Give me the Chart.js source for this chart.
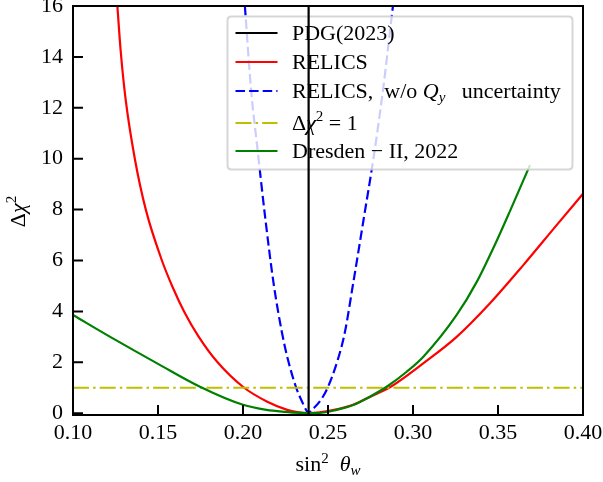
<!DOCTYPE html>
<html>
<head>
<meta charset="utf-8">
<title>Δχ² vs sin²θw</title>
<script src="https://cdn.jsdelivr.net/npm/chart.js@4.4.0/dist/chart.umd.min.js"></script>
<style>
  html, body { margin: 0; padding: 0; background: #ffffff; }
</style>
</head>
<body>
<canvas id="chi2Chart" width="603" height="482"></canvas>
<script>
// axis ticks
const xTickValues = [0.10, 0.15, 0.20, 0.25, 0.30, 0.35, 0.40];
const yTickValues = [0, 2, 4, 6, 8, 10, 12, 14, 16];

// PDG(2023) reference value of sin^2(theta_w)
const pdgValue = 0.2386;

// RELICS
const relicsX = [0.1261, 0.1280, 0.1310, 0.1365, 0.1429, 0.1522, 0.1585, 0.1654, 0.1739, 0.1848,
                 0.2003, 0.2143, 0.2260, 0.2320, 0.2386, 0.2450, 0.2550, 0.2648, 0.2746, 0.2864,
                 0.3060, 0.3257, 0.3453, 0.3649, 0.3845, 0.4000];
const relicsY = [16.0, 14.27, 12.31, 9.95, 7.98, 6.02, 4.97, 3.99, 3.01, 2.02,
                 1.02, 0.45, 0.13, 0.04, 0.00, 0.03, 0.15, 0.33, 0.64, 1.02,
                 1.96, 3.00, 4.32, 5.82, 7.39, 8.62];

// RELICS without the Q_y uncertainty
const relicsNoQyX = [0.2011, 0.2048, 0.2086, 0.2130, 0.2180, 0.2230, 0.2265, 0.2312, 0.2343, 0.2378,
                     0.2388, 0.2396, 0.2458, 0.2499, 0.2557, 0.2598, 0.2648, 0.2712, 0.2767, 0.2823,
                     0.2882];
const relicsNoQyY = [16.0, 12.67, 10.34, 7.72, 5.10, 3.14, 2.09, 1.02, 0.52, 0.06,
                     0.00, 0.06, 0.52, 1.02, 2.09, 3.14, 5.10, 7.72, 10.0, 12.67,
                     16.0];

// Dresden-II, 2022
const dresdenX = [0.1000, 0.1250, 0.1500, 0.1750, 0.2000, 0.2138, 0.2250, 0.2334, 0.2430, 0.2550,
                  0.2648, 0.2746, 0.2845, 0.2963, 0.3061, 0.3257, 0.3375, 0.3492, 0.3571, 0.3688];
const dresdenY = [3.86, 2.88, 1.94, 1.03, 0.33, 0.13, 0.05, 0.01, 0.00, 0.13,
                  0.32, 0.65, 1.04, 1.63, 2.22, 3.86, 5.16, 6.77, 7.95, 9.75];

// 1 sigma level
const oneSigmaX = [0.10, 0.40];
const oneSigmaY = [1, 1];

const xMin = 0.10, xMax = 0.40;
const yMin = -0.07, yMax = 16;

const FONT = '"Liberation Serif", "Times New Roman", serif';
const BASE_SIZE = 22;
const SMALL_SIZE = 15;

const RED = '#ff0000', BLUE = '#0000ff', GREEN = '#008000', OLIVE = '#bfbf00', BLACK = '#000000';
const DASHED = [9.5, 4.1];
const DASH_DOT = [16, 4.1, 2.5, 4.1];
const LINE_W = 2.2;

function toPoints(xs, ys) {
    return xs.map((x, i) => ({ x: x, y: ys[i] }));
}

// text made of runs of different style (italic, super/subscript)
function runFont(r) {
    return (r.italic ? 'italic ' : '') + (r.size || BASE_SIZE) + 'px ' + FONT;
}
function runsWidth(ctx, runs) {
    let w = 0;
    runs.forEach(r => { ctx.font = runFont(r); w += ctx.measureText(r.text).width; });
    return w;
}
function drawRuns(ctx, runs, x, y) {
    ctx.textAlign = 'left';
    ctx.textBaseline = 'alphabetic';
    runs.forEach(r => {
        ctx.font = runFont(r);
        ctx.fillText(r.text, x, y + (r.dy || 0));
        x += ctx.measureText(r.text).width;
    });
}

const xTitle = [
    { text: 'sin' }, { text: '2', size: SMALL_SIZE, dy: -8 }, { text: '  ' },
    { text: 'θ', italic: true }, { text: 'w', italic: true, size: SMALL_SIZE, dy: 4 }
];
const yTitle = [
    { text: 'Δ' }, { text: 'χ', italic: true }, { text: '2', size: SMALL_SIZE, dy: -9 }
];

const legendEntries = [
    { runs: [{ text: 'PDG(2023)' }], color: BLACK, dash: [] },
    { runs: [{ text: 'RELICS' }], color: RED, dash: [] },
    { runs: [{ text: 'RELICS,  w/o ' }, { text: 'Q', italic: true }, { text: 'y', italic: true, size: SMALL_SIZE, dy: 4 },
             { text: '   uncertainty' }], color: BLUE, dash: DASHED },
    { runs: [{ text: 'Δ' }, { text: 'χ', italic: true }, { text: '2', size: SMALL_SIZE, dy: -9 }, { text: ' = 1' }],
      color: OLIVE, dash: DASH_DOT },
    { runs: [{ text: 'Dresden − II, 2022' }], color: GREEN, dash: [] }
];
const legendRowY = [33, 62, 91, 123, 151];

function drawLegend(chart) {
    const ctx = chart.ctx;
    const area = chart.chartArea;
    const right = area.right - 10.5, top = area.top + 10.5;
    const left = 227.5, bottom = 169.5, r = 4;

    ctx.save();
    ctx.beginPath();
    ctx.moveTo(left + r, top);
    ctx.lineTo(right - r, top);
    ctx.quadraticCurveTo(right, top, right, top + r);
    ctx.lineTo(right, bottom - r);
    ctx.quadraticCurveTo(right, bottom, right - r, bottom);
    ctx.lineTo(left + r, bottom);
    ctx.quadraticCurveTo(left, bottom, left, bottom - r);
    ctx.lineTo(left, top + r);
    ctx.quadraticCurveTo(left, top, left + r, top);
    ctx.closePath();
    ctx.fillStyle = 'rgba(255, 255, 255, 0.8)';
    ctx.fill();
    ctx.strokeStyle = 'rgba(204, 204, 204, 0.8)';
    ctx.lineWidth = 2;
    ctx.stroke();

    legendEntries.forEach((entry, i) => {
        const y = legendRowY[i];
        ctx.strokeStyle = entry.color;
        ctx.lineWidth = LINE_W;
        ctx.setLineDash(entry.dash);
        ctx.beginPath();
        ctx.moveTo(235.5, y);
        ctx.lineTo(277.5, y);
        ctx.stroke();
        ctx.setLineDash([]);
        ctx.fillStyle = BLACK;
        drawRuns(ctx, entry.runs, 292, y + 7);
    });
    ctx.restore();
}

// frame, inward ticks, axis titles and legend
const axesDecor = {
    id: 'axesDecor',
    beforeDatasetDraw(chart, args) {
        // legend sits below the PDG line
        if (args.index === 0) drawLegend(chart);
    },
    afterDraw(chart) {
        const ctx = chart.ctx;
        const a = chart.chartArea;
        const xs = chart.scales.x, ys = chart.scales.y;
        ctx.save();
        ctx.strokeStyle = BLACK;
        ctx.lineWidth = 2;
        ctx.beginPath();
        xs.ticks.forEach(t => {
            const px = xs.getPixelForValue(t.value);
            ctx.moveTo(px, a.bottom);
            ctx.lineTo(px, a.bottom - 10);
        });
        ys.ticks.forEach(t => {
            const py = ys.getPixelForValue(t.value);
            ctx.moveTo(a.left, py);
            ctx.lineTo(a.left + 10, py);
        });
        ctx.stroke();
        ctx.strokeRect(a.left, a.top, a.right - a.left, a.bottom - a.top);

        ctx.fillStyle = BLACK;
        const cx = (a.left + a.right) / 2;
        drawRuns(ctx, xTitle, cx - runsWidth(ctx, xTitle) / 2, 471);

        ctx.translate(25, (a.top + a.bottom) / 2 + 1);
        ctx.rotate(-Math.PI / 2);
        drawRuns(ctx, yTitle, -runsWidth(ctx, yTitle) / 2, 0);
        ctx.restore();
    }
};

function lineSet(label, data, color, dash, order, smooth) {
    return {
        label: label,
        data: data,
        showLine: true,
        borderColor: color,
        backgroundColor: color,
        borderWidth: LINE_W,
        borderDash: dash,
        pointRadius: 0,
        fill: false,
        order: order,
        cubicInterpolationMode: smooth ? 'monotone' : 'default'
    };
}

const tickFont = { family: FONT, size: BASE_SIZE };
const ctx = document.getElementById('chi2Chart').getContext('2d');

new Chart(ctx, {
    type: 'scatter',
    data: {
        datasets: [
            lineSet('PDG(2023)', [{ x: pdgValue, y: yMin }, { x: pdgValue, y: yMax }], BLACK, [], 0, false),
            lineSet('Dresden-II, 2022', toPoints(dresdenX, dresdenY), GREEN, [], 1, true),
            lineSet('Δχ² = 1', toPoints(oneSigmaX, oneSigmaY), OLIVE, DASH_DOT, 2, false),
            lineSet('RELICS, w/o Qy uncertainty', toPoints(relicsNoQyX, relicsNoQyY), BLUE, DASHED, 3, true),
            lineSet('RELICS', toPoints(relicsX, relicsY), RED, [], 4, true)
        ]
    },
    options: {
        responsive: false,
        animation: false,
        layout: { padding: { top: 6, right: 20, bottom: 0, left: 0 } },
        plugins: {
            legend: { display: false },
            tooltip: { enabled: false }
        },
        scales: {
            x: {
                type: 'linear',
                min: xMin,
                max: xMax,
                grid: { display: false, drawTicks: false },
                border: { display: false },
                afterBuildTicks: scale => { scale.ticks = xTickValues.map(v => ({ value: v })); },
                afterFit: scale => {
                    scale.height = 67;
                    scale.paddingLeft = 0;
                    scale.paddingRight = 0;
                },
                ticks: {
                    font: tickFont,
                    color: BLACK,
                    padding: 5,
                    maxRotation: 0,
                    autoSkip: false,
                    callback: value => value.toFixed(2)
                }
            },
            y: {
                type: 'linear',
                min: yMin,
                max: yMax,
                grid: { display: false, drawTicks: false },
                border: { display: false },
                afterBuildTicks: scale => { scale.ticks = yTickValues.map(v => ({ value: v })); },
                afterFit: scale => {
                    scale.width = 73;
                    scale.paddingTop = 0;
                    scale.paddingBottom = 0;
                },
                ticks: {
                    font: tickFont,
                    color: BLACK,
                    padding: 10,
                    autoSkip: false,
                    callback: value => String(value)
                }
            }
        }
    },
    plugins: [axesDecor]
});
</script>
</body>
</html>
